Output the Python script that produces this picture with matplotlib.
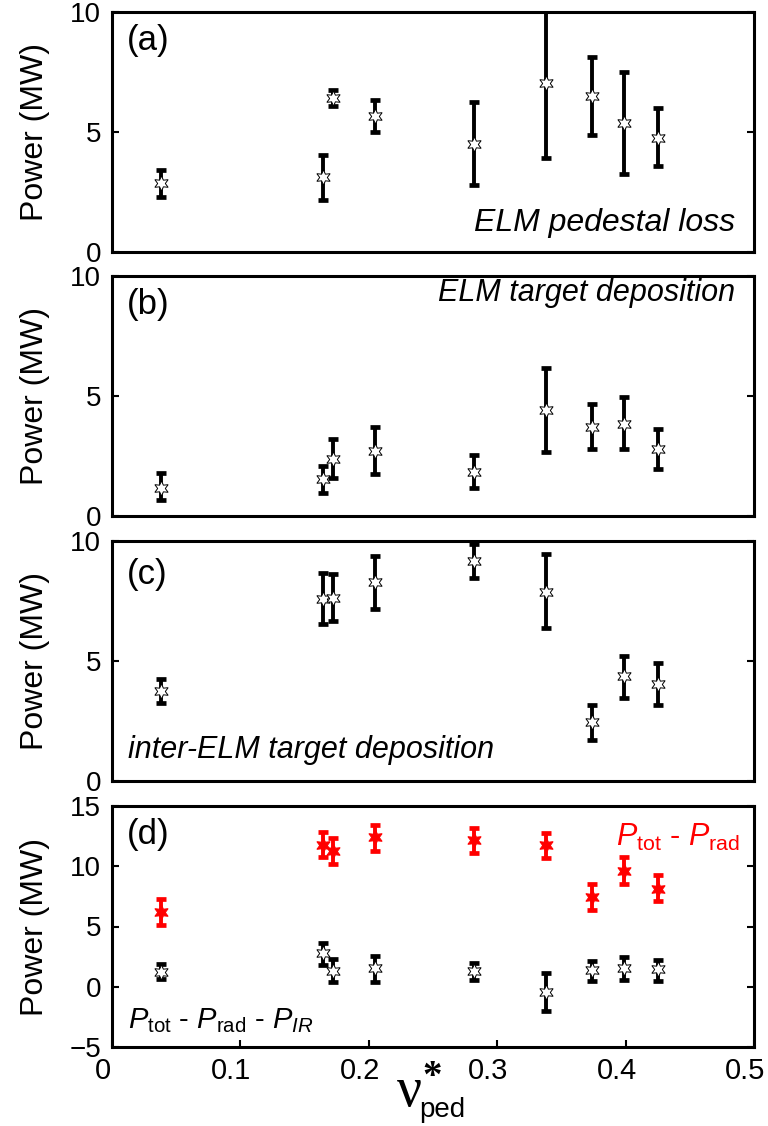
import numpy as np
import matplotlib
matplotlib.use("Agg")
import matplotlib.pyplot as plt
from matplotlib.transforms import ScaledTranslation

plt.rcParams['font.family'] = ['Liberation Sans', 'DejaVu Sans']
plt.rcParams['mathtext.fontset'] = 'custom'
plt.rcParams['mathtext.rm'] = 'Liberation Sans'
plt.rcParams['mathtext.it'] = 'Liberation Sans:italic'

# pedestal collisionality of the discharges
nu_ped = [0.038, 0.164, 0.172, 0.205, 0.282, 0.338, 0.374, 0.399, 0.425]

# (a) ELM pedestal loss
p_elm_loss = [2.89, 3.12, 6.41, 5.65, 4.52, 7.06, 6.48, 5.37, 4.75]
p_elm_loss_lo = [2.30, 2.18, 6.08, 4.98, 2.78, 3.92, 4.88, 3.25, 3.57]
p_elm_loss_hi = [3.42, 4.06, 6.73, 6.34, 6.27, 10.4, 8.12, 7.48, 6.00]

# (b) ELM target deposition
p_elm_tgt = [1.18, 1.53, 2.39, 2.71, 1.85, 4.42, 3.69, 3.83, 2.81]
p_elm_tgt_lo = [0.67, 0.97, 1.57, 1.74, 1.17, 2.68, 2.78, 2.78, 1.96]
p_elm_tgt_hi = [1.78, 2.08, 3.21, 3.72, 2.53, 6.15, 4.67, 4.94, 3.64]

# (c) inter-ELM target deposition
p_inter = [3.76, 7.58, 7.63, 8.28, 9.15, 7.89, 2.44, 4.37, 4.06]
p_inter_lo = [3.24, 6.55, 6.65, 7.18, 8.45, 6.37, 1.72, 3.45, 3.18]
p_inter_hi = [4.27, 8.66, 8.63, 9.37, 9.86, 9.46, 3.17, 5.21, 4.90]

# (d) Ptot - Prad (red) and Ptot - Prad - PIR (black)
p_net = [6.2, 11.8, 11.3, 12.4, 12.2, 11.8, 7.46, 9.6, 8.1]
p_net_lo = [5.1, 10.8, 10.2, 11.3, 11.1, 10.7, 6.4, 8.56, 7.1]
p_net_hi = [7.3, 12.85, 12.35, 13.4, 13.2, 12.8, 8.56, 10.8, 9.25]

p_rest = [1.24, 2.76, 1.30, 1.52, 1.30, -0.41, 1.38, 1.57, 1.46]
p_rest_lo = [0.61, 1.80, 0.36, 0.41, 0.55, -2.0, 0.50, 0.55, 0.50]
p_rest_hi = [1.88, 3.65, 2.27, 2.57, 1.93, 1.10, 2.15, 2.49, 2.20]

star = (6, 1, 0)


def draw(ax, y, lo, hi, color='k', face='white'):
    y = np.array(y)
    yerr = [y - np.array(lo), np.array(hi) - y]
    ax.errorbar(nu_ped, y, yerr=yerr, fmt='none', ecolor=color,
                elinewidth=2.8, capsize=3.3, capthick=3.4, zorder=2)
    ax.plot(nu_ped, y, linestyle='none', marker=star, markersize=11,
            mfc=face, mec=color, mew=0.7, zorder=3)


fig = plt.figure(figsize=(7.68, 11.26), dpi=100)
W, H = 768, 1126
left, right = 112, 754
panels = [(12, 252), (276, 516), (541, 781), (806, 1047)]
axes = []
for top, bot in panels:
    ax = fig.add_axes([left / W, 1 - bot / H, (right - left) / W, (bot - top) / H])
    ax.set_xlim(0, 0.5)
    for s in ax.spines.values():
        s.set_linewidth(2.2)
    ax.tick_params(axis='y', direction='in', length=5, width=1.5,
                   labelsize=20, right=True, pad=8)
    ax.set_ylabel('Power (MW)', fontsize=23, labelpad=14)
    axes.append(ax)

for ax in axes[:3]:
    ax.set_ylim(0, 10)
    ax.set_yticks([0, 5, 10])
    ax.set_xticks([])

ax_d = axes[3]
ax_d.set_ylim(-5, 15)
ax_d.set_yticks([-5, 0, 5, 10, 15])
ax_d.set_xticks([0, 0.1, 0.2, 0.3, 0.4, 0.5])
ax_d.set_xticklabels(['0', '0.1', '0.2', '0.3', '0.4', '0.5'])
ax_d.tick_params(axis='x', direction='in', length=5, width=1.5,
                 labelsize=21, pad=7)
# tick labels sit a little left of their ticks
shift = ScaledTranslation(-0.09, 0, fig.dpi_scale_trans)
for lab in ax_d.get_xticklabels():
    lab.set_transform(lab.get_transform() + shift)

draw(axes[0], p_elm_loss, p_elm_loss_lo, p_elm_loss_hi)
draw(axes[1], p_elm_tgt, p_elm_tgt_lo, p_elm_tgt_hi)
draw(axes[2], p_inter, p_inter_lo, p_inter_hi)
draw(ax_d, p_net, p_net_lo, p_net_hi, color='red', face='red')
draw(ax_d, p_rest, p_rest_lo, p_rest_hi)

lab_kw = dict(fontsize=25, va='center', ha='left')
axes[0].text(0.023, 0.88, '(a)', transform=axes[0].transAxes, **lab_kw)
axes[1].text(0.023, 0.88, '(b)', transform=axes[1].transAxes, **lab_kw)
axes[2].text(0.023, 0.86, '(c)', transform=axes[2].transAxes, **lab_kw)
ax_d.text(0.023, 0.88, '(d)', transform=ax_d.transAxes, **lab_kw)

note_kw = dict(fontsize=22, style='italic', va='center')
axes[0].text(0.970, 0.12, 'ELM pedestal loss', ha='right', fontsize=23,
             style='italic', va='center', transform=axes[0].transAxes)
axes[1].text(0.970, 0.93, 'ELM target deposition', ha='right',
             transform=axes[1].transAxes, **note_kw)
axes[2].text(0.025, 0.13, 'inter-ELM target deposition', ha='left',
             transform=axes[2].transAxes, **note_kw)

ax_d.text(0.978, 0.87, r'$P_{\mathrm{tot}}$ - $P_{\mathrm{rad}}$', ha='right',
          va='center', color='red', fontsize=22, transform=ax_d.transAxes)
ax_d.text(0.025, 0.11, r'$P_{\mathrm{tot}}$ - $P_{\mathrm{rad}}$ - $P_{IR}$',
          ha='left', va='center', color='black', fontsize=21,
          transform=ax_d.transAxes)

# x axis label: nu*_ped
fig.text(409 / W, 1 - 1092 / H, '\u03bd', fontsize=40, family='Liberation Serif',
         ha='center', va='center')
fig.text(432 / W, 1 - 1078 / H, '*', fontsize=28, family='Liberation Serif',
         ha='center', va='center', weight='bold')
fig.text(419 / W, 1 - 1110 / H, 'ped', fontsize=20, ha='left', va='center')

fig.savefig('out.png', dpi=100)
